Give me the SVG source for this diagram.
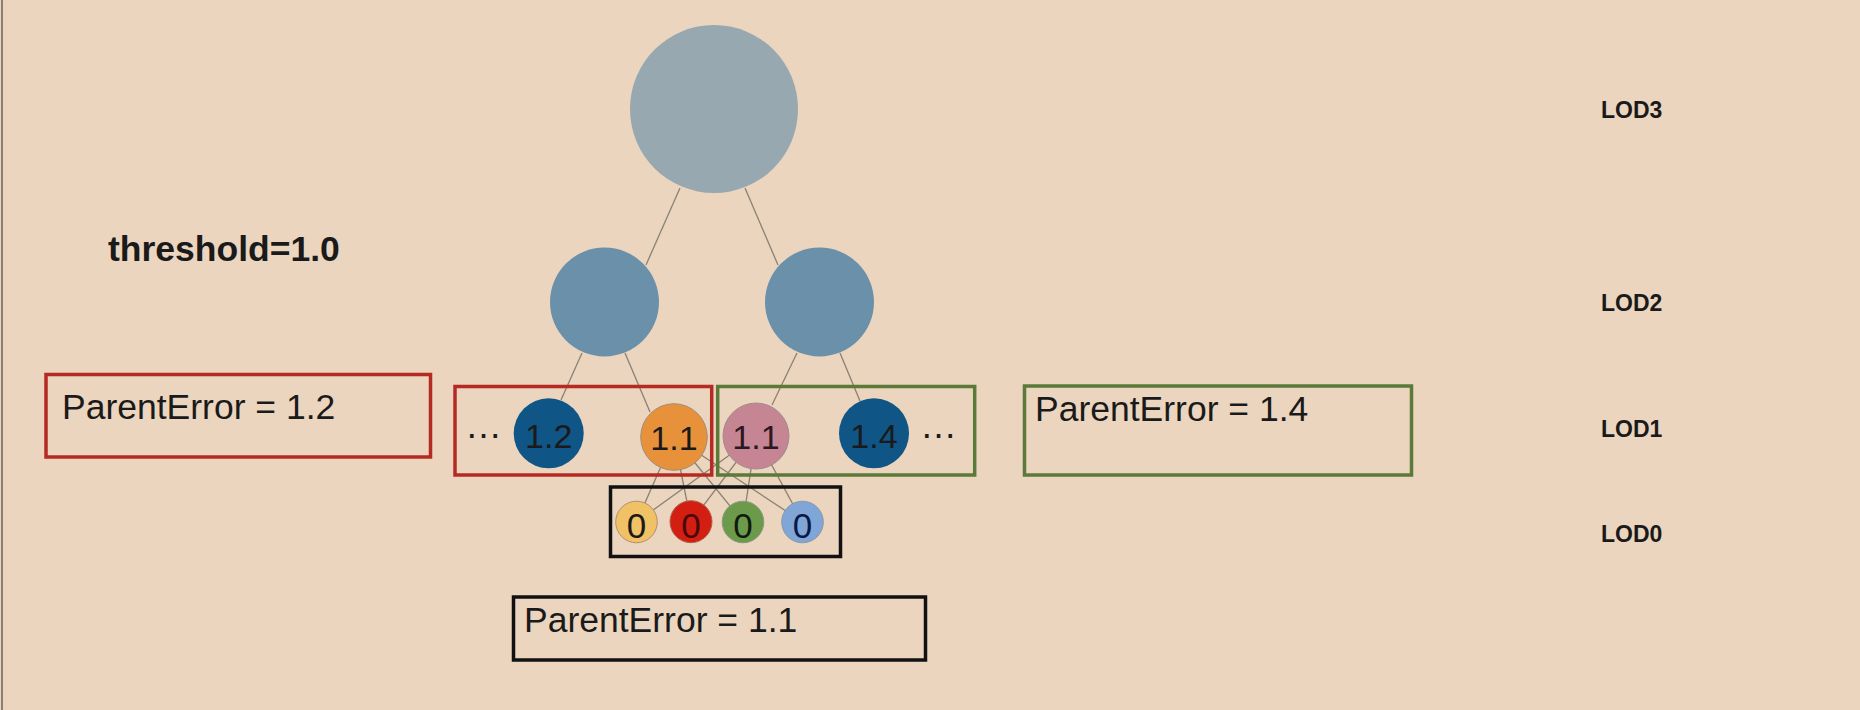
<svg xmlns="http://www.w3.org/2000/svg" width="1860" height="710" viewBox="0 0 1860 710">
<style>
  .t{font-family:"Liberation Sans",Arial,sans-serif;fill:#1a1a1a}
  .b{font-weight:bold}
  .lod{font-family:"Liberation Sans",Arial,sans-serif;font-weight:bold;font-size:23px;fill:#1a1a1a}
  .pe{font-size:35.5px}
  .num{font-size:34px;text-anchor:middle}
  .zero{font-size:35px;text-anchor:middle}
  .dots{font-size:37px}
  .box{fill:none;stroke-width:3.5}
  .edge{stroke:#8a8174;stroke-width:1.3;fill:none}
</style>
<rect width="1860" height="710" fill="#ebd5be"/>
<line x1="2" y1="0" x2="2" y2="710" stroke="#8c7f72" stroke-width="2"/>

<g id="connectors">
  <line class="edge" x1="680" y1="188" x2="646" y2="265"/>
  <line class="edge" x1="745" y1="188" x2="778" y2="265"/>
  <line class="edge" x1="582" y1="353" x2="561" y2="400"/>
  <line class="edge" x1="625" y1="353" x2="650" y2="412"/>
  <line class="edge" x1="797" y1="353" x2="772" y2="405"/>
  <line class="edge" x1="840" y1="353" x2="860" y2="401"/>
  <line class="edge" x1="674" y1="437" x2="636.5" y2="522"/>
  <line class="edge" x1="674" y1="437" x2="691" y2="522"/>
  <line class="edge" x1="674" y1="437" x2="743" y2="522"/>
  <line class="edge" x1="674" y1="437" x2="802.5" y2="522"/>
  <line class="edge" x1="756" y1="436" x2="636.5" y2="522"/>
  <line class="edge" x1="756" y1="436" x2="691" y2="522"/>
  <line class="edge" x1="756" y1="436" x2="743" y2="522"/>
  <line class="edge" x1="756" y1="436" x2="802.5" y2="522"/>
</g>

<g id="lod3-root"><circle cx="714" cy="109" r="84" fill="#97a8b1"/></g>
<g id="lod2-left"><circle cx="604.5" cy="302" r="54.5" fill="#6b90aa"/></g>
<g id="lod2-right"><circle cx="819.5" cy="302" r="54.5" fill="#6b90aa"/></g>

<g id="lod1-a">
  <circle cx="548.7" cy="433.3" r="35" fill="#0f5585"/>
  <text class="t num" x="548.7" y="447.5">1.2</text>
</g>
<g id="lod1-b">
  <circle cx="674" cy="437" r="33.3" fill="#e8913b" stroke="#a08c78" stroke-width="1"/>
  <text class="t num" x="674" y="450">1.1</text>
</g>
<g id="lod1-c">
  <circle cx="756" cy="436" r="33" fill="#c68592" stroke="#a08c8c" stroke-width="1"/>
  <text class="t num" x="756" y="449" style="fill:#2a1822">1.1</text>
</g>
<g id="lod1-d">
  <circle cx="874" cy="433.3" r="35" fill="#0f5585"/>
  <text class="t num" x="874" y="447.5">1.4</text>
</g>
<g id="ellipsis-left"><text class="t dots" x="465" y="438">…</text></g>
<g id="ellipsis-right"><text class="t dots" x="920" y="438">…</text></g>

<g id="lod0-a">
  <circle cx="636.5" cy="522" r="20.8" fill="#f1c165" stroke="#b09070" stroke-width="1"/>
  <text class="t zero" x="636.5" y="537.5">0</text>
</g>
<g id="lod0-b">
  <circle cx="691" cy="521.7" r="21" fill="#d21f12" stroke="#b06050" stroke-width="1"/>
  <text class="t zero" x="691" y="537.5" style="fill:#4a0808">0</text>
</g>
<g id="lod0-c">
  <circle cx="743" cy="522" r="20.8" fill="#6b9a4b" stroke="#8a9a80" stroke-width="1"/>
  <text class="t zero" x="743" y="537.5" style="fill:#101a10">0</text>
</g>
<g id="lod0-d">
  <circle cx="802.5" cy="522" r="20.8" fill="#7fa6d6" stroke="#8a98a8" stroke-width="1"/>
  <text class="t zero" x="802.5" y="537.5" style="fill:#0a1848">0</text>
</g>

<g id="group-red">
  <rect class="box" x="455" y="386.5" width="256.7" height="88.5" stroke="#b52a22"/>
</g>
<g id="group-green">
  <rect class="box" x="717.7" y="386.5" width="257" height="88.5" stroke="#5b7a3a"/>
</g>
<g id="group-black">
  <rect class="box" x="610.5" y="487" width="230" height="69.5" stroke="#111"/>
</g>

<g id="threshold">
  <text class="t b" x="108" y="261" font-size="35.5">threshold=1.0</text>
</g>

<g id="pe-left">
  <rect class="box" x="46" y="374.5" width="384.5" height="82.5" stroke="#b52a22"/>
  <text class="t pe" x="62" y="419">ParentError = 1.2</text>
</g>
<g id="pe-right">
  <rect class="box" x="1024.5" y="386" width="387" height="89" stroke="#5b7a3a"/>
  <text class="t pe" x="1035" y="421">ParentError = 1.4</text>
</g>
<g id="pe-bottom">
  <rect class="box" x="513.5" y="597" width="412" height="63" stroke="#111"/>
  <text class="t pe" x="524" y="631.5">ParentError = 1.1</text>
</g>

<g id="lod-labels">
  <text class="lod" x="1601" y="118">LOD3</text>
  <text class="lod" x="1601" y="310.5">LOD2</text>
  <text class="lod" x="1601" y="436.5">LOD1</text>
  <text class="lod" x="1601" y="541.5">LOD0</text>
</g>
</svg>
